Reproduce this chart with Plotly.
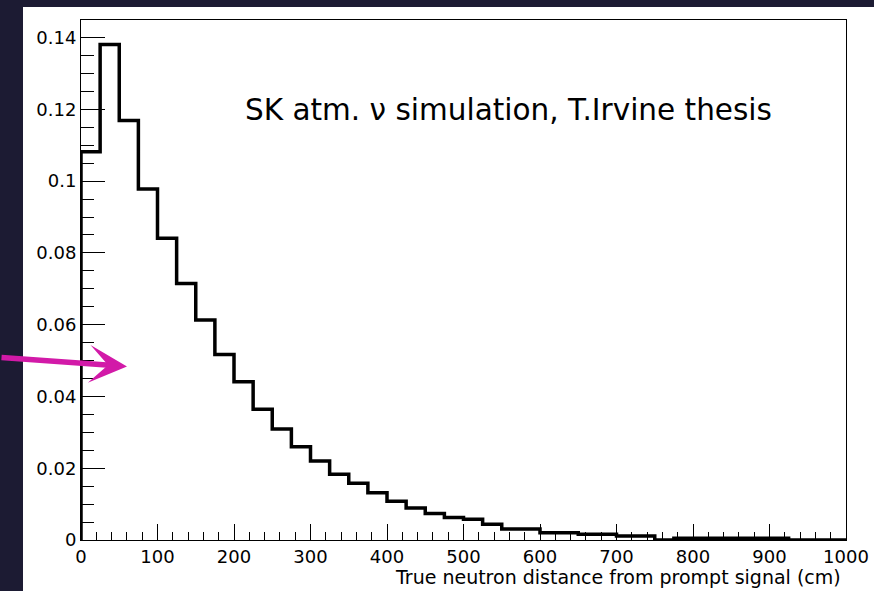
import plotly.graph_objects as go

# ---- data ----
bin_width = 25
x_min, x_max = 0, 1000
counts = [
    0.1082, 0.1381, 0.1169, 0.0978, 0.0841, 0.0715, 0.0613, 0.0517,
    0.0441, 0.0364, 0.0309, 0.0260, 0.0220, 0.0183, 0.0158, 0.0132,
    0.0108, 0.0089, 0.0074, 0.0063, 0.0058, 0.0044, 0.0031, 0.0031,
    0.0020, 0.0020, 0.0016, 0.0016, 0.0011, 0.0011, 0.0000, 0.0005,
    0.0005, 0.0005, 0.0005, 0.0005, 0.0005, 0.0000, 0.0000, 0.0000,
]
y_tick_vals = [0, 0.02, 0.04, 0.06, 0.08, 0.10, 0.12, 0.14]
y_tick_text = ["0", "0.02", "0.04", "0.06", "0.08", "0.1", "0.12", "0.14"]
x_tick_vals = [0, 100, 200, 300, 400, 500, 600, 700, 800, 900, 1000]
x_tick_text = [str(v) for v in x_tick_vals]
x_title = "True neutron distance from prompt signal (cm)"
note = "SK atm. \u03bd simulation, T.Irvine thesis"

# step outline built from bin edges
edges = [x_min + i * bin_width for i in range(len(counts) + 1)]
xs = [edges[0]] + edges + [edges[-1]]
ys = [0] + counts + [counts[-1], 0]

NAVY = "#1c1b33"
MAGENTA = "#d21aa8"
TICK_FONT = dict(family="DejaVu Sans, sans-serif", size=18, color="black")

fig = go.Figure()
fig.add_trace(go.Scatter(
    x=xs, y=ys, mode="lines", line=dict(shape="hv", color="black", width=3.5),
    hoverinfo="skip", showlegend=False,
))

W, H = 874, 591
L, R, T, B = 81, 28, 20, 51
pw, ph = W - L - R, H - T - B


def px_x(p):
    return (p - L) / pw


def px_y(p):
    return (H - B - p) / ph


fig.update_layout(
    width=W, height=H, autosize=False,
    margin=dict(l=L, r=R, t=T, b=B, pad=0, autoexpand=False),
    paper_bgcolor=NAVY, plot_bgcolor="white",
    font=dict(family="DejaVu Sans, sans-serif", size=18, color="black"),
    showlegend=False,
    shapes=[dict(
        type="rect", xref="paper", yref="paper", layer="below",
        x0=px_x(23), x1=px_x(W + 5), y0=px_y(H + 5), y1=px_y(7),
        fillcolor="white", line=dict(width=0),
    )],
    annotations=[
        dict(
            text=note, xref="paper", yref="paper", x=px_x(508.5), y=px_y(110),
            xanchor="center", yanchor="middle", showarrow=False,
            font=dict(family="DejaVu Sans, sans-serif", size=29.5, color="black"),
        ),
        dict(
            text=x_title, xref="paper", yref="paper", x=px_x(843), y=px_y(577),
            xanchor="right", yanchor="middle", showarrow=False,
            font=dict(family="DejaVu Sans, sans-serif", size=19, color="black"),
        ),
        dict(
            text="", xref="paper", yref="paper", x=px_x(127), y=px_y(366.5),
            ax=-127, ay=-9, axref="pixel", ayref="pixel",
            showarrow=True, arrowhead=3, arrowsize=1.15, arrowwidth=5.5,
            arrowcolor=MAGENTA, standoff=0,
        ),
    ],
)

fig.update_xaxes(
    range=[x_min, x_max], tickvals=x_tick_vals, ticktext=x_tick_text,
    tickfont=TICK_FONT, automargin=False,
    ticks="inside", ticklen=16, tickwidth=1, tickcolor="black",
    minor=dict(ticks="inside", dtick=20, ticklen=8, tickwidth=1, tickcolor="black"),
    showgrid=False, zeroline=False,
    showline=True, linecolor="black", linewidth=1, mirror=True,
)
fig.update_yaxes(
    range=[0, 0.1449], tickvals=y_tick_vals, ticktext=y_tick_text,
    tickfont=TICK_FONT, automargin=False,
    ticks="inside", ticklen=24, tickwidth=1, tickcolor="black",
    minor=dict(ticks="inside", dtick=0.005, ticklen=13, tickwidth=1, tickcolor="black"),
    showgrid=False, zeroline=False,
    showline=True, linecolor="black", linewidth=1, mirror=True,
    ticklabelstandoff=0,
)

fig.write_html("out.html")
